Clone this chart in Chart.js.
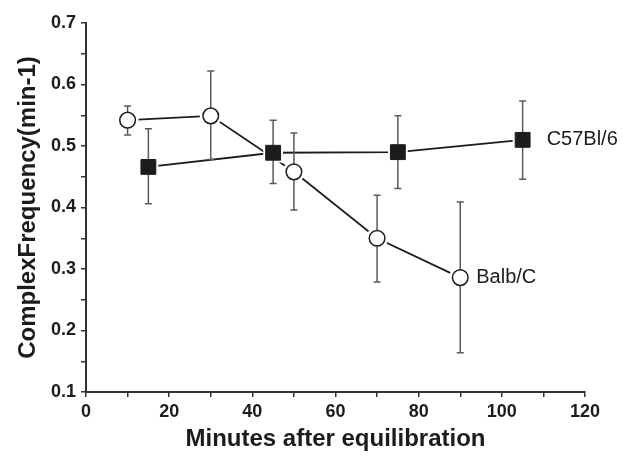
<!DOCTYPE html>
<html>
<head>
<meta charset="utf-8">
<script src="https://cdn.jsdelivr.net/npm/chart.js@4/dist/chart.umd.min.js"></script>
<style>
  html, body { margin: 0; padding: 0; background: #fff; }
  canvas { display: block; }
</style>
</head>
<body>
<canvas id="chart" width="629" height="456"></canvas>
<script>
// values
const seriesNames = ['Balb/C', 'C57Bl/6'];

const balbX = [10, 30, 50, 70, 90];
const balbY = [0.542, 0.549, 0.458, 0.350, 0.286];
const balbHi = [0.565, 0.622, 0.521, 0.420, 0.409];
const balbLo = [0.518, 0.478, 0.396, 0.279, 0.164];

const c57X = [15, 45, 75, 105];
const c57Y = [0.466, 0.489, 0.490, 0.510];
const c57Hi = [0.528, 0.542, 0.549, 0.573];
const c57Lo = [0.406, 0.439, 0.431, 0.446];

const xTitle = 'Minutes after equilibration';
const yTitle = 'ComplexFrequency(min-1)';

const FONT = '"Liberation Sans", Arial, Helvetica, sans-serif';
const INK = '#1c1c1c';

const pts = (xs, ys) => xs.map((x, i) => ({ x: x, y: ys[i] }));

// error bars, drawn just before each marker dataset
const errorBars = {
    id: 'errorBars',
    beforeDatasetDraw(chart, args) {
        const ds = chart.data.datasets[args.index];
        if (!ds.errHi) return;
        const xs = chart.scales.x, ys = chart.scales.y;
        const ctx = chart.ctx;
        ctx.save();
        ctx.strokeStyle = '#5a5a5a';
        ctx.lineWidth = 1.5;
        ds.data.forEach((p, i) => {
            const px = xs.getPixelForValue(p.x);
            const top = ys.getPixelForValue(ds.errHi[i]);
            const bot = ys.getPixelForValue(ds.errLo[i]);
            ctx.beginPath();
            ctx.moveTo(px, top); ctx.lineTo(px, bot);
            ctx.moveTo(px - 3.5, top); ctx.lineTo(px + 3.5, top);
            ctx.moveTo(px - 3.5, bot); ctx.lineTo(px + 3.5, bot);
            ctx.stroke();
        });
        ctx.restore();
    }
};

// series names next to the last point of each curve
const endLabels = {
    id: 'endLabels',
    afterDatasetsDraw(chart) {
        const ctx = chart.ctx;
        ctx.save();
        ctx.font = '20px ' + FONT;
        ctx.fillStyle = INK;
        ctx.textBaseline = 'middle';
        chart.data.datasets.forEach((ds, i) => {
            if (!ds.endLabel) return;
            const meta = chart.getDatasetMeta(i);
            const last = meta.data[meta.data.length - 1];
            ctx.fillText(ds.endLabel, last.x + ds.labelGap, last.y);
        });
        ctx.restore();
    }
};

new Chart(document.getElementById('chart').getContext('2d'), {
    type: 'scatter',
    data: {
        datasets: [
            { data: pts(balbX, balbY), showLine: true, pointRadius: 0, borderColor: INK, borderWidth: 1.8, order: 5 },
            { data: pts(c57X, c57Y), showLine: true, pointRadius: 0, borderColor: INK, borderWidth: 1.8, order: 5 },
            // white halos give the small gap between lines and markers
            { data: pts(balbX, balbY), pointRadius: 11, pointBackgroundColor: '#fff', pointBorderWidth: 0, order: 4 },
            { data: pts(c57X, c57Y), pointStyle: 'rect', pointRadius: 14, pointBackgroundColor: '#fff', pointBorderWidth: 0, order: 4 },
            { data: pts(balbX, balbY), errHi: balbHi, errLo: balbLo, endLabel: seriesNames[0], labelGap: 16,
              pointRadius: 7.8, pointBackgroundColor: '#fff', pointBorderColor: INK, pointBorderWidth: 1.5, order: 1 },
            { data: pts(c57X, c57Y), errHi: c57Hi, errLo: c57Lo, endLabel: seriesNames[1], labelGap: 24,
              pointStyle: 'rect', pointRadius: 10.5, pointBackgroundColor: INK, pointBorderColor: INK, pointBorderWidth: 1, order: 1 }
        ]
    },
    options: {
        responsive: false,
        animation: false,
        layout: { padding: { top: 23, right: 44, left: 0, bottom: 0 } },
        plugins: { legend: { display: false }, tooltip: { enabled: false } },
        scales: {
            x: {
                type: 'linear',
                min: 0, max: 120,
                afterFit: s => { s.height = 64; },
                grid: { drawOnChartArea: false, drawTicks: true, tickLength: 5, color: '#333', lineWidth: 1.5 },
                border: { display: true, color: '#333', width: 2 },
                ticks: {
                    stepSize: 10, padding: 4, color: INK, maxRotation: 0, autoSkip: false,
                    font: { family: FONT, size: 18, weight: 'bold' },
                    callback: v => (v % 20 === 0 ? String(v) : '')
                },
                title: { display: true, text: xTitle, color: INK, padding: { top: 0, bottom: 2 },
                         font: { family: FONT, size: 24, weight: 'bold' } }
            },
            y: {
                min: 0.1, max: 0.7,
                afterFit: s => { s.width = 86; },
                grid: { drawOnChartArea: false, drawTicks: true, tickLength: 5, color: '#333', lineWidth: 1.5 },
                border: { display: true, color: '#333', width: 2 },
                ticks: {
                    stepSize: 0.05, padding: 5, color: INK, autoSkip: false,
                    font: { family: FONT, size: 18, weight: 'bold' },
                    callback: v => (Math.abs(v * 10 - Math.round(v * 10)) < 1e-6 ? v.toFixed(1) : '')
                },
                title: { display: true, text: yTitle, color: INK, padding: { top: 14, bottom: 0 },
                         font: { family: FONT, size: 24, weight: 'bold' } }
            }
        }
    },
    plugins: [errorBars, endLabels]
});
</script>
</body>
</html>
